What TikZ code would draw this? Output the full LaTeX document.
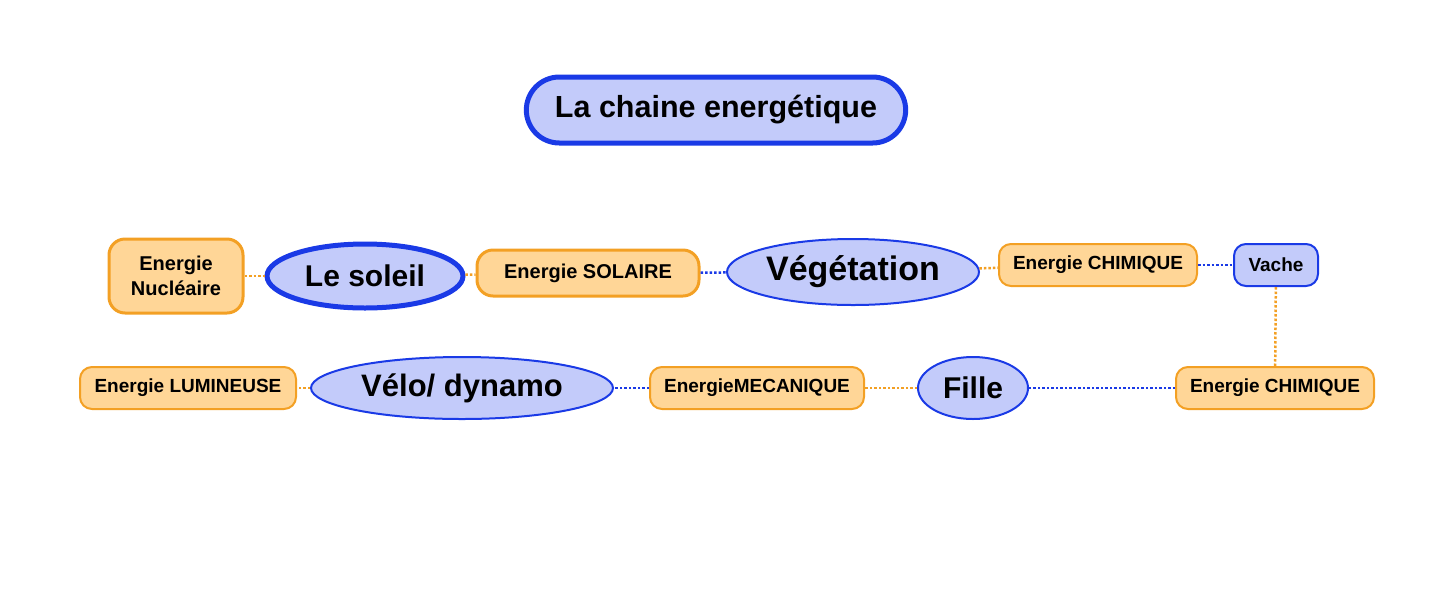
\documentclass[tikz,border=0pt]{standalone}
\usepackage{fontspec}
\setmainfont{Liberation Sans}
\usetikzlibrary{shapes.geometric,shapes.misc}
\definecolor{bluedge}{HTML}{1A3AE6}
\definecolor{bluefill}{HTML}{C3CBFA}
\definecolor{orgedge}{HTML}{F3A024}
\definecolor{orgfill}{HTML}{FFD697}
\tikzset{
  box/.style={draw=orgedge,fill=orgfill,line width=2pt,rounded corners=12pt,
    font=\bfseries\fontsize{19}{22}\selectfont,align=center,inner sep=0pt},
  bubble/.style={ellipse,draw=bluedge,fill=bluefill,line width=2pt,
    inner sep=0pt,font=\bfseries\fontsize{30}{34}\selectfont},
  olink/.style={orgedge,line width=2.5pt,dotted},
  blink/.style={bluedge,line width=2.5pt,dotted}
}
\begin{document}
\begin{tikzpicture}[x=1pt,y=-1pt]
  \useasboundingbox (0,0) rectangle (1446,614);
  \node [rounded rectangle,draw=bluedge,fill=bluefill,line width=5pt,
         minimum width=386,minimum height=66,
         font=\bfseries\fontsize{30.5}{34}\selectfont] (title) at (716,110) {La chaine energétique};
  % first row
  \node [box,line width=3pt,rounded corners=16pt,minimum width=134,minimum height=74,
         font=\bfseries\fontsize{20}{25}\selectfont] (nucl) at (176,276) {Energie\\Nucléaire};
  \node [bubble,line width=5pt,minimum width=196,minimum height=64] (sun) at (365,276) {Le soleil};
  \node [box,line width=3pt,rounded corners=16pt,minimum width=222,minimum height=46,
         font=\bfseries\fontsize{20}{24}\selectfont] (sol) at (588,273) {Energie SOLAIRE};
  \node [bubble,minimum width=252,minimum height=66,font=\bfseries\fontsize{34}{38}\selectfont] (veg) at (853,272) {Végétation};
  \node [box,minimum width=198,minimum height=42] (chim1) at (1098,265) {Energie CHIMIQUE};
  \node [box,draw=bluedge,fill=bluefill,minimum width=84,minimum height=42] (cow) at (1276,265) {Vache};
  % second row
  \node [box,minimum width=198,minimum height=42] (chim2) at (1275,388) {Energie CHIMIQUE};
  \node [bubble,minimum width=110,minimum height=62] (girl) at (973,388) {Fille};
  \node [box,minimum width=214,minimum height=42] (meca) at (757,388) {EnergieMECANIQUE};
  \node [bubble,minimum width=302,minimum height=62,font=\bfseries\fontsize{31}{35}\selectfont] (bike) at (462,388) {Vélo/ dynamo};
  \node [box,minimum width=216,minimum height=42] (lum) at (188,388) {Energie LUMINEUSE};
  % links
  \draw [olink] (nucl) -- (sun);
  \draw [olink] (sun) -- (sol);
  \draw [blink] (sol) -- (veg);
  \draw [olink] (veg) -- (chim1);
  \draw [blink] (chim1) -- (cow);
  \draw [olink] (cow) -- (chim2);
  \draw [blink] (chim2) -- (girl);
  \draw [olink] (girl) -- (meca);
  \draw [blink] (meca) -- (bike);
  \draw [olink] (bike) -- (lum);
\end{tikzpicture}
\end{document}
